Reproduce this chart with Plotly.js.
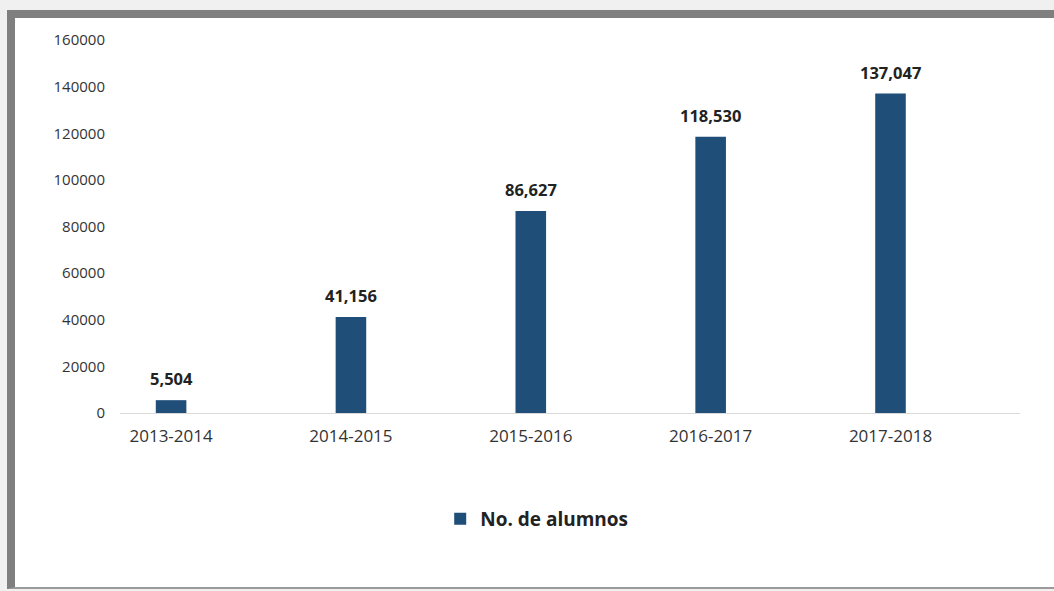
<!DOCTYPE html>
<html>
<head>
<meta charset="utf-8">
<script src="https://cdn.plot.ly/plotly-3.0.1.min.js"></script>
<style>
  html, body { margin:0; padding:0; width:1054px; height:591px; overflow:hidden; background:#f0f0f0; }
  #frame { position:absolute; left:7px; top:10px; width:1047px; height:579px; background:#ffffff;
           border-left:8px solid #7f7f7f; border-top:8px solid #7f7f7f; border-bottom:2px solid #9a9a9a; box-sizing:border-box; }
  #chart { position:absolute; left:0; top:0; width:1054px; height:591px; }
</style>
</head>
<body>
<div id="frame"></div>
<div id="chart"></div>
<script>
const categories = ["2013-2014", "2014-2015", "2015-2016", "2016-2017", "2017-2018"];
const alumnos = [5504, 41156, 86627, 118530, 137047];
const seriesName = "No. de alumnos";
const yTicks = [0, 20000, 40000, 60000, 80000, 100000, 120000, 140000, 160000];

const trace = {
  type: "bar",
  x: categories,
  y: alumnos,
  name: seriesName,
  width: 0.17,
  marker: { color: "#1f4e79" },
  hoverinfo: "x+y"
};

const labels = categories.map((c, i) => ({
  x: c, y: alumnos[i], xref: "x", yref: "y",
  text: alumnos[i].toLocaleString("en-US"),
  showarrow: false, yanchor: "bottom", yshift: 8,
  font: { family: "Open Sans, sans-serif", size: 16.5, color: "#222222", weight: "bold" }
}));

const layout = {
  width: 1054, height: 591,
  margin: { l: 120, r: 34, t: 40, b: 178 },
  paper_bgcolor: "rgba(0,0,0,0)",
  plot_bgcolor: "rgba(0,0,0,0)",
  showlegend: true,
  legend: {
    orientation: "h", x: 0.463, xanchor: "center", y: -0.284, yanchor: "middle",
    font: { family: "Open Sans, sans-serif", size: 19, color: "#222222", weight: "bold" },
    itemwidth: 30
  },
  annotations: labels,
  xaxis: {
    type: "category",
    range: [-0.284, 4.72],
    showline: true, linecolor: "#d9d9d9", linewidth: 1,
    showgrid: false, zeroline: false, ticks: "",
    ticklabelstandoff: 8,
    tickfont: { family: "Open Sans, sans-serif", size: 17, color: "#333333" }
  },
  yaxis: {
    range: [0, 160000],
    tickvals: yTicks,
    tickformat: "d",
    showgrid: false, zeroline: false, showline: false, ticks: "",
    ticklabelstandoff: 14,
    tickfont: { family: "Open Sans, sans-serif", size: 15, color: "#333333" }
  },
  bargap: 0.2
};

Plotly.newPlot("chart", [trace], layout, { displayModeBar: false, staticPlot: true });
</script>
</body>
</html>
